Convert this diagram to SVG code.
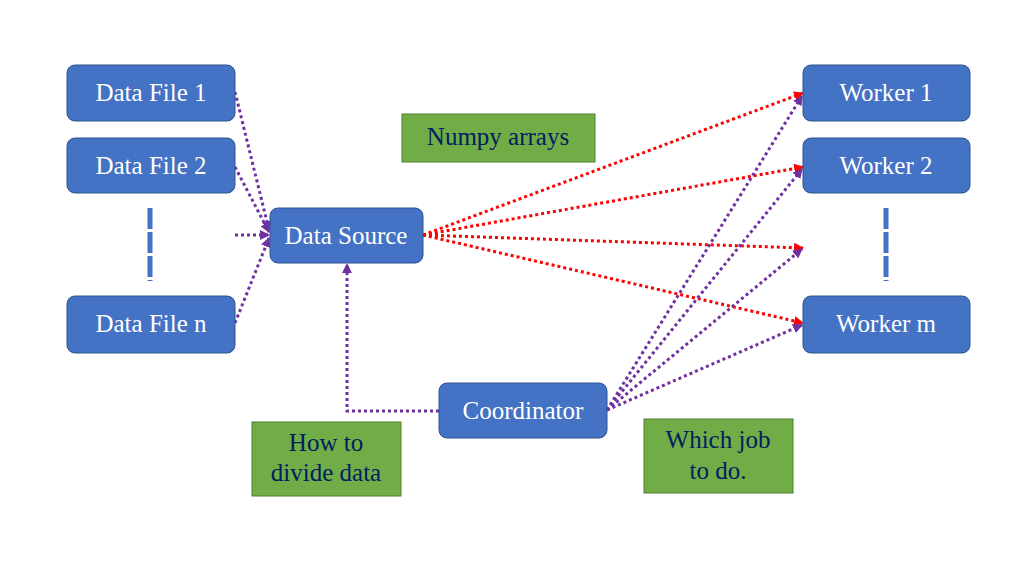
<svg xmlns="http://www.w3.org/2000/svg" width="1024" height="576" viewBox="0 0 1024 576">
<style>
.node rect.b{fill:#4472C4;stroke:#2F528F;stroke-width:1}
.node rect.g{fill:#70AD47;stroke:#507E32;stroke-width:1}
.wt{font-family:"Liberation Serif","Times New Roman",serif;font-size:25px;fill:#FFFFFF;text-anchor:middle}
.nt{font-family:"Liberation Serif","Times New Roman",serif;font-size:25px;fill:#002060;text-anchor:middle}
.pu{stroke:#7030A0;stroke-width:3;fill:none;stroke-dasharray:3 3}
.rd{stroke:#FF0000;stroke-width:3;fill:none;stroke-dasharray:3 3}
.dash{stroke:#4472C4;stroke-width:5;fill:none;stroke-dasharray:21 3}
</style>
<defs>
<marker id="ap" viewBox="0 0 10 10" refX="9" refY="5" markerWidth="3.3" markerHeight="3.3" orient="auto" markerUnits="strokeWidth">
<path d="M0,0 L10,5 L0,10 z" fill="#7030A0"/>
</marker>
<marker id="ar" viewBox="0 0 10 10" refX="9" refY="5" markerWidth="3.3" markerHeight="3.3" orient="auto" markerUnits="strokeWidth">
<path d="M0,0 L10,5 L0,10 z" fill="#FF0000"/>
</marker>
</defs>
<rect width="1024" height="576" fill="#FFFFFF"/>

<g id="connectors">
<path class="pu" d="M235,92 L269,230" marker-end="url(#ap)"/>
<path class="pu" d="M235,167 L269,232" marker-end="url(#ap)"/>
<path class="pu" d="M235,235 L269,235" marker-end="url(#ap)"/>
<path class="pu" d="M235,323 L269,238" marker-end="url(#ap)"/>
<path class="rd" d="M423,235 L803,93" marker-end="url(#ar)"/>
<path class="rd" d="M423,235 L803,167" marker-end="url(#ar)"/>
<path class="rd" d="M423,235 L803,248" marker-end="url(#ar)"/>
<path class="rd" d="M423,235 L803,323" marker-end="url(#ar)"/>
<path class="pu" d="M607,410 L802,96" marker-end="url(#ap)"/>
<path class="pu" d="M607,410 L802,169" marker-end="url(#ap)"/>
<path class="pu" d="M607,410 L802,249" marker-end="url(#ap)"/>
<path class="pu" d="M607,410 L802,325" marker-end="url(#ap)"/>
<path class="pu" d="M439,411 L347,411 L347,264" marker-end="url(#ap)"/>
</g>

<g id="dots-left"><path class="dash" d="M150,208 L150,281"/></g>
<g id="dots-right"><path class="dash" d="M886,208 L886,281"/></g>

<g id="data-file-1" class="node"><rect class="b" x="67" y="65" width="168" height="56" rx="8"/><text class="wt" x="151" y="101">Data File 1</text></g>
<g id="data-file-2" class="node"><rect class="b" x="67" y="138" width="168" height="55" rx="8"/><text class="wt" x="151" y="174">Data File 2</text></g>
<g id="data-file-n" class="node"><rect class="b" x="67" y="296" width="168" height="57" rx="8"/><text class="wt" x="151" y="332">Data File n</text></g>
<g id="data-source" class="node"><rect class="b" x="270" y="208" width="153" height="55" rx="8"/><text class="wt" x="346" y="244">Data Source</text></g>
<g id="coordinator" class="node"><rect class="b" x="439" y="383" width="168" height="55" rx="8"/><text class="wt" x="523" y="419">Coordinator</text></g>
<g id="worker-1" class="node"><rect class="b" x="803" y="65" width="167" height="56" rx="8"/><text class="wt" x="886" y="101">Worker 1</text></g>
<g id="worker-2" class="node"><rect class="b" x="803" y="138" width="167" height="55" rx="8"/><text class="wt" x="886" y="174">Worker 2</text></g>
<g id="worker-m" class="node"><rect class="b" x="803" y="296" width="167" height="57" rx="8"/><text class="wt" x="886" y="332">Worker m</text></g>

<g id="numpy-arrays" class="node"><rect class="g" x="402" y="114" width="193" height="48"/><text class="nt" x="498" y="145">Numpy arrays</text></g>
<g id="how-to-divide" class="node"><rect class="g" x="252" y="422" width="149" height="74"/><text class="nt" x="326" y="451">How to</text><text class="nt" x="326" y="481">divide data</text></g>
<g id="which-job" class="node"><rect class="g" x="644" y="419" width="149" height="74"/><text class="nt" x="718" y="448">Which job</text><text class="nt" x="718" y="479">to do.</text></g>
</svg>
